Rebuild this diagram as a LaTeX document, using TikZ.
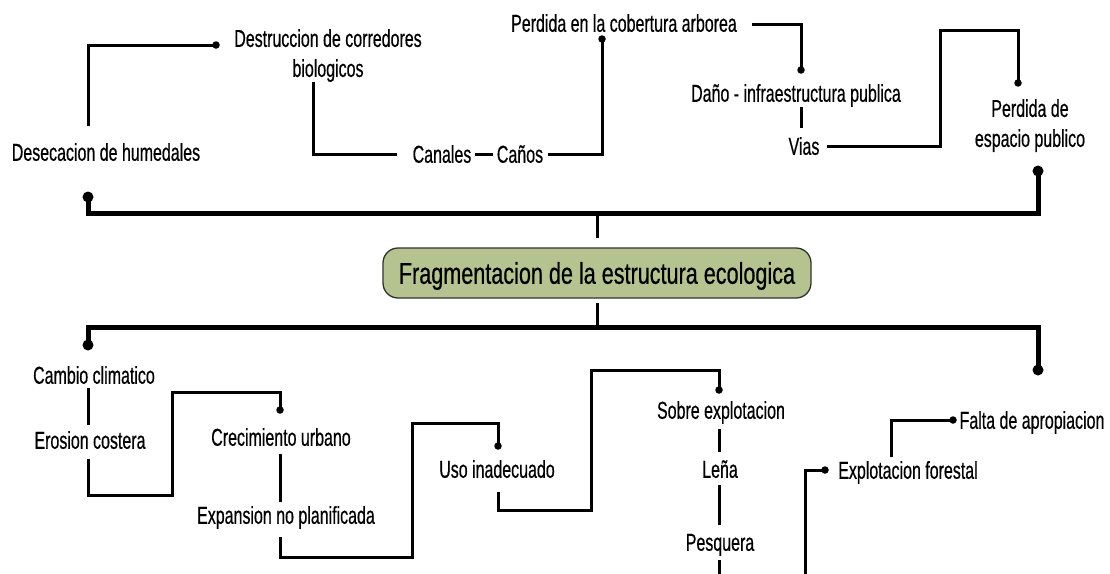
\documentclass[tikz,border=0pt]{standalone}
\usepackage{fontspec}
\newfontfamily\lblfont{Liberation Sans}[FakeStretch=0.655,FakeBold=0.5]
\newfontfamily\ttlfont{Liberation Sans}[FakeStretch=0.72,FakeBold=0.5]
\definecolor{sage}{RGB}{181,195,145}
\definecolor{boxline}{RGB}{50,50,50}
\begin{document}
\begin{tikzpicture}[x=1pt,y=-1pt,
  lbl/.style={font=\lblfont\fontsize{24.4}{30}\selectfont, inner sep=0pt, text height=17.5pt, text depth=0pt},
  lbltwo/.style={font=\lblfont\fontsize{24.4}{30}\selectfont, inner sep=0pt, align=center, anchor=north},
  conn/.style={line width=3pt},
  trunk/.style={line width=5pt},
  sdot/.style={circle, fill=black, inner sep=0pt, minimum size=7.5pt},
  bdot/.style={circle, fill=black, inner sep=0pt, minimum size=11pt},
  mainbox/.style={draw=boxline, fill=sage, rounded corners=15pt, line width=1.3pt,
    minimum width=428pt, minimum height=50pt, inner sep=0pt,
    font=\ttlfont\fontsize{30}{36}\selectfont, text height=21.5pt, text depth=0pt}]
\useasboundingbox (0,0) rectangle (1110,573);
\fill[white] (0,0) rectangle (1110,573);

% ---------- upper nodes ----------
\node[lbl] (desec) at (106,152) {Desecacion de humedales};
\node[lbltwo] (destr) at (328,29) {Destruccion de corredores\\biologicos};
\node[lbl] (canales) at (442,154) {Canales};
\node[lbl] (canos) at (520,154) {Caños};
\node[lbl] (cober) at (624,23) {Perdida en la cobertura arborea};
\node[lbl] (dano) at (796,93) {Daño - infraestructura publica};
\node[lbl] (vias) at (804,146) {Vias};
\node[lbltwo] (espacio) at (1030,99) {Perdida de\\espacio publico};

% ---------- central node ----------
\node[mainbox] (main) at (597,273) {Fragmentacion de la estructura ecologica};

% ---------- lower nodes ----------
\node[lbl] (cambio) at (94,375) {Cambio climatico};
\node[lbl] (erosion) at (90,440) {Erosion costera};
\node[lbl] (crec) at (281,437) {Crecimiento urbano};
\node[lbl] (expan) at (286,515) {Expansion no planificada};
\node[lbl] (uso) at (497,469) {Uso inadecuado};
\node[lbl] (sobre) at (721,410) {Sobre explotacion};
\node[lbl] (lena) at (720,469) {Leña};
\node[lbl] (pesq) at (720,542) {Pesquera};
\node[lbl] (falta) at (1032,420) {Falta de apropiacion};
\node[lbl] (forest) at (908,470) {Explotacion forestal};

% ---------- dots ----------
\node[sdot] (p1) at (216,45) {};
\node[sdot] (p4) at (602,39) {};
\node[sdot] (p5) at (801,70) {};
\node[sdot] (p7) at (1018,83) {};
\node[bdot] (p8a) at (88,197) {};
\node[bdot] (p8b) at (1038,171) {};
\node[bdot] (p11a) at (88,345) {};
\node[bdot] (p11b) at (1038,370) {};
\node[sdot] (p13) at (280,410) {};
\node[sdot] (p15) at (498,446) {};
\node[sdot] (p16) at (719,390) {};
\node[sdot] (p20) at (953,420) {};
\node[sdot] (p21) at (825,470) {};

% ---------- coordinates ----------
\coordinate (topbar) at (597,213);
\coordinate (botbar) at (597,327);
\coordinate (desecTop) at (88,126);
\coordinate (destrBot) at (313,82);
\coordinate (canalesW) at (397,154);
\coordinate (canosE) at (548,154);
\coordinate (coberE) at (752,24);
\coordinate (danoB) at (801,107);
\coordinate (viasT) at (801,128);
\coordinate (viasE) at (827,146);
\coordinate (mainT) at (597,238);
\coordinate (mainB) at (597,303);
\coordinate (cambioB) at (88,388);
\coordinate (erosionT) at (88,425);
\coordinate (erosionB) at (88,459);
\coordinate (crecB) at (280,454);
\coordinate (expanT) at (280,502);
\coordinate (expanB) at (280,537);
\coordinate (usoB) at (498,492);
\coordinate (sobreB) at (719,429);
\coordinate (lenaT) at (719,452);
\coordinate (lenaB) at (719,485);
\coordinate (pesqT) at (719,525);
\coordinate (pesqB) at (719,560);
\coordinate (pesqEnd) at (719,576);
\coordinate (forestT) at (891,457);
\coordinate (forestEnd) at (805,576);

% ---------- connectors (upper) ----------
\draw[conn] (p1.center) -| (desecTop);
\draw[conn] (destrBot) |- (canalesW);
\draw[conn] (475,154) -- (493,154);
\draw[conn] (canosE) -| (p4.center);
\draw[conn] (coberE) -| (p5.center);
\draw[conn] (danoB) -- (viasT);
\draw[conn] (viasE) -- (940,146) -- (940,30) -| (p7.center);
\draw[trunk] (p8a.center) |- (topbar) -| (p8b.center);
\draw[conn] (topbar) -- (mainT);

% ---------- connectors (lower) ----------
\draw[conn] (mainB) -- (botbar);
\draw[trunk] (p11a.center) |- (botbar) -| (p11b.center);
\draw[conn] (cambioB) -- (erosionT);
\draw[conn] (erosionB) |- (172,495) -- (172,392) -| (p13.center);
\draw[conn] (crecB) -- (expanT);
\draw[conn] (expanB) |- (412,557) -- (412,423) -| (p15.center);
\draw[conn] (usoB) |- (591,510) -- (591,370) -| (p16.center);
\draw[conn] (sobreB) -- (lenaT);
\draw[conn] (lenaB) -- (pesqT);
\draw[conn] (pesqB) -- (pesqEnd);
\draw[conn] (p20.center) -| (forestT);
\draw[conn] (p21.center) -| (forestEnd);
\end{tikzpicture}
\end{document}
